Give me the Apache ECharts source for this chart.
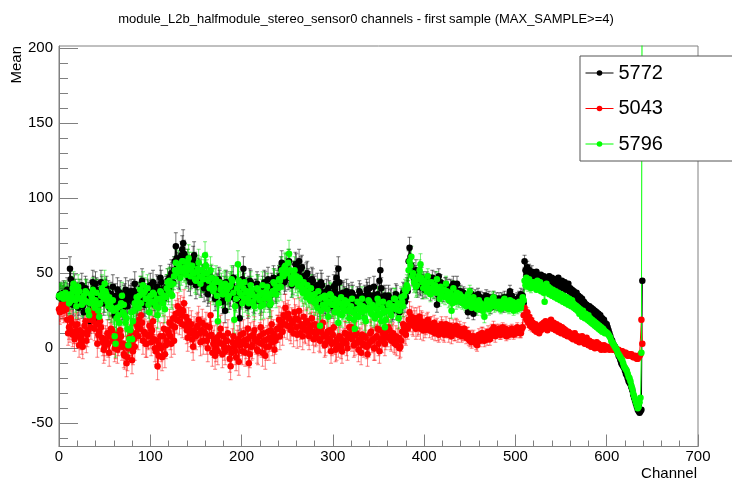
<!DOCTYPE html>
<html>
<head>
<meta charset="utf-8">
<script src="https://cdn.jsdelivr.net/npm/echarts@6/dist/echarts.min.js"></script>
<style>
  html, body { margin: 0; padding: 0; background: #fff; }
  #chart { width: 732px; height: 483px; }
</style>
</head>
<body>
<div id="chart"></div>
<script>
// values, one per channel 0..639 (40 channels per row)
const run5772 = [
  34,36,35,33,34,37,36,32,33,39,35,31,53,46,34,29,30,41,38,35,36,27,30,38,33,42,28,24,35,40,38,33,36,30,18,37,38,44,40,35,
  43,39,38,34,19,31,44,40,36,30,32,38,40,35,37,27,33,36,30,41,28,22,35,33,39,30,33,37,29,25,27,34,35,39,31,28,37,32,34,38,
  35,31,38,43,33,28,30,36,36,33,40,45,34,30,29,35,31,38,37,32,42,36,38,44,33,29,36,41,40,34,35,47,44,39,38,33,34,40,41,45,
  40,47,45,50,48,44,52,58,68,60,55,49,48,56,62,66,70,63,61,54,50,57,47,53,44,49,52,59,62,55,42,48,45,51,50,44,43,47,46,40,
  44,49,40,36,38,45,42,47,45,40,39,33,36,42,41,46,44,38,37,31,35,40,25,44,43,37,38,34,36,43,41,47,39,33,35,40,38,30,20,35,
  38,46,53,42,35,39,33,28,40,45,44,37,36,32,31,38,38,43,41,35,35,30,32,40,37,44,43,36,39,46,34,29,36,42,40,47,45,39,38,44,
  42,47,48,53,57,49,50,44,46,55,52,47,58,51,48,42,44,50,50,56,55,48,52,58,46,53,54,47,48,41,44,49,50,45,43,38,40,46,45,41,
  40,35,36,42,33,29,38,44,42,37,35,31,30,38,34,40,37,33,32,28,35,41,38,43,47,36,53,44,34,30,30,37,36,33,32,38,28,35,34,31,
  32,37,35,30,30,26,28,34,33,38,36,31,31,27,29,35,34,39,37,32,40,35,30,28,35,41,33,30,28,36,31,45,52,40,34,29,30,35,33,27,
  30,35,28,32,33,25,26,30,31,36,35,29,29,24,27,33,32,37,36,31,34,40,38,58,67,61,55,49,50,46,48,52,44,41,46,43,42,47,40,44,
  44,39,42,46,45,41,40,37,43,47,41,38,46,42,29,36,48,43,44,40,40,36,38,42,42,39,41,35,37,41,40,36,43,38,39,35,43,37,38,34,
  38,34,35,37,36,32,33,29,24,33,34,36,36,31,23,30,35,32,33,36,31,28,34,31,30,33,33,29,35,32,31,34,29,27,32,30,34,31,30,33,
  31,29,33,31,30,33,32,28,34,31,29,32,33,35,38,33,35,31,32,29,30,32,33,30,34,31,36,33,35,30,58,52,49,54,47,52,50,46,51,48,
  50,46,48,51,45,49,47,44,49,46,43,48,45,47,42,46,44,48,43,45,47,42,44,46,41,45,43,47,42,44,40,45,43,41,44,39,42,40,43,38,
  40,37,39,35,38,36,34,37,33,35,32,34,31,33,29,31,30,27,29,28,26,28,25,27,24,26,23,25,22,24,21,23,20,22,19,20,18,19,17,16,
  16,14,12,10,8,6,5,3,2,1,0,-1,-3,-5,-6,-8,-10,-11,-12,-13,-15,-17,-18,-20,-22,-23,-24,-26,-28,-31,-33,-35,-37,-39,-41,-42,-43,-42,-41,45
];
const run5043 = [
  26,24,27,29,28,25,27,30,26,19,10,14,12,20,17,9,11,6,15,11,16,8,2,12,7,4,1,10,15,18,5,9,12,22,19,14,20,25,18,13,
  22,16,3,9,11,18,14,7,4,-1,1,6,4,10,3,-3,8,13,12,5,5,0,2,9,-1,4,6,12,8,1,3,-4,-5,2,-10,-6,0,7,4,11,
  -8,-2,6,1,10,16,14,8,19,13,22,17,5,11,10,3,3,9,8,15,9,4,12,18,6,0,-2,5,-12,-5,2,8,0,-6,8,13,-4,2,5,12,
  10,17,8,3,15,20,5,14,23,19,28,24,18,26,22,16,25,30,15,21,12,7,18,13,10,16,6,1,12,9,8,14,15,19,10,4,12,17,5,11,
  10,15,5,0,8,14,22,9,-3,3,6,-5,0,7,-2,4,9,13,3,-4,8,1,-2,5,5,10,0,-7,-12,-3,4,8,1,-2,-6,3,6,-9,2,9,
  4,-2,10,5,-3,2,6,13,-10,-4,8,1,2,9,12,6,5,-1,-2,4,8,14,3,-3,10,5,-5,1,6,11,1,7,12,16,4,10,-1,5,7,13,
  13,19,8,15,18,11,22,16,27,21,15,23,20,14,12,18,17,10,24,20,14,9,19,25,10,15,16,8,21,13,12,17,18,11,8,14,15,20,11,6,
  16,9,10,15,12,6,5,11,14,17,8,2,3,9,11,5,6,12,-2,3,9,14,4,-1,0,6,2,8,7,1,-2,4,5,10,10,3,0,7,14,9,
  14,6,8,2,3,9,10,4,-1,6,5,-3,9,3,2,8,7,1,-4,2,4,10,11,5,6,0,0,7,8,13,3,-2,12,6,5,11,9,3,7,12,
  8,14,12,6,5,9,10,4,3,8,2,6,7,0,1,5,11,16,14,10,9,15,13,19,24,18,21,16,15,20,18,13,20,15,16,21,13,18,17,12,
  17,12,14,18,19,15,12,16,16,11,13,17,10,14,15,10,9,13,11,16,14,10,9,13,16,12,12,9,15,11,8,12,14,10,10,15,14,9,11,13,
  12,8,9,11,13,9,7,10,10,6,5,8,4,7,8,5,6,3,2,6,9,5,7,10,10,7,5,9,8,6,11,8,6,10,12,9,14,11,8,12,
  10,12,13,9,9,11,14,10,11,13,8,10,12,9,10,12,13,11,9,12,11,10,14,12,12,10,10,13,14,22,27,22,19,24,17,21,15,19,14,17,
  15,12,16,11,14,13,10,15,12,16,13,17,14,18,15,12,17,14,16,19,15,13,17,14,12,16,13,11,15,12,10,14,11,13,9,12,10,8,11,9,
  10,7,9,6,8,10,7,5,8,6,4,7,5,8,4,6,3,5,7,4,2,5,3,1,4,2,3,0,2,4,1,3,0,2,-1,1,0,2,-1,1,
  0,1,0,-1,0,0,0,-1,-1,0,-1,-2,-2,-1,-2,-3,-2,-2,-3,-4,-3,-3,-4,-5,-4,-4,-5,-4,-5,-6,-6,-5,-6,-7,-7,-6,-5,-4,19,3
];
const run5796 = [
  35,34,35,36,34,33,35,37,36,34,33,30,31,36,34,40,43,38,32,28,35,41,38,33,33,29,30,35,32,38,37,31,25,22,30,36,34,39,31,27,
  32,37,29,25,21,30,35,40,37,33,43,38,36,31,28,34,30,26,27,32,25,8,3,20,27,22,17,28,30,35,24,29,22,17,20,13,2,6,12,24,
  6,18,25,30,28,34,32,27,35,39,30,36,42,37,38,33,33,40,29,24,35,31,31,37,36,30,28,33,22,27,33,38,37,32,30,35,26,34,40,44,
  38,45,42,36,35,43,48,52,57,50,52,56,54,47,51,58,58,53,54,49,52,57,60,55,48,52,55,50,50,46,45,51,53,57,48,43,52,47,46,50,
  62,55,50,46,45,40,52,47,42,38,40,44,46,35,18,30,44,39,41,36,36,42,43,38,39,33,35,41,42,46,45,37,19,28,33,40,56,45,37,42,
  35,30,40,44,33,37,38,32,30,35,42,39,36,31,28,34,34,40,39,35,32,28,37,42,29,33,35,38,41,36,33,29,30,36,38,44,43,39,36,41,
  40,46,45,41,52,49,48,54,55,51,50,57,63,52,47,43,44,49,52,46,48,44,42,47,46,41,40,37,44,39,38,34,42,37,36,32,40,35,35,31,
  36,30,32,27,38,33,15,25,34,29,28,35,33,30,26,21,31,36,35,29,29,33,24,28,32,26,17,23,30,34,22,27,28,32,25,30,31,25,20,27,
  28,33,24,19,13,22,26,31,21,27,29,24,33,28,25,20,18,26,27,32,31,25,23,29,28,22,20,27,26,33,30,23,22,18,27,31,24,14,19,25,
  25,29,30,24,22,27,28,33,33,26,26,30,20,25,29,34,31,28,35,39,38,42,40,52,58,55,61,48,50,44,45,41,42,46,48,52,56,47,44,40,
  45,41,42,38,48,44,40,36,44,39,38,42,42,37,46,40,37,33,41,36,35,39,39,34,43,38,36,32,33,37,25,30,40,35,34,31,37,33,32,36,
  35,31,30,34,33,29,28,32,36,30,38,33,27,31,34,29,29,27,26,31,32,28,30,26,25,29,21,27,28,32,31,26,27,30,30,33,34,28,29,31,
  28,30,31,27,26,29,30,32,33,28,27,31,29,26,32,30,28,31,25,28,30,27,26,29,31,28,27,30,34,32,45,42,47,44,41,46,43,40,44,42,
  44,41,43,39,45,42,40,44,38,42,41,37,31,40,43,38,41,36,40,38,35,39,37,34,38,36,33,37,35,32,36,34,31,35,33,30,34,32,29,33,
  31,28,32,30,27,29,26,28,25,27,23,26,24,21,25,22,20,23,21,19,22,18,20,17,19,16,18,15,17,14,16,13,15,12,14,11,13,12,10,11,
  10,10,9,8,7,5,4,3,2,1,0,-1,-3,-4,-5,-6,-7,-8,-10,-12,-13,-14,-15,-17,-19,-20,-22,-25,-27,-30,-32,-34,-36,-38,-40,-39,-36,-33,-3,320
];
// error bar half-size, one value per 40 channels
const err5772 = [8,8,8,9,8,8,8,8,7,7,5,4,4,1.5,1.5,1.5];
const err5043 = [8,9,9,9,9,9,9,8,8,7,5,4,3,1.5,1.5,1.5];
const err5796 = [8,9,9,9,9,9,9,8,8,7,5,4,3,1.5,1.5,1.5];

const yMajor = [-50, 0, 50, 100, 150, 200];
const yMinor = [];
for (let v = -60; v <= 200; v += 10) if (v % 50 !== 0) yMinor.push(v);

const font = 'Liberation Sans, Arial, Helvetica, sans-serif';
const gray = '#808080';

function points (vals) {
  return vals.map((v, i) => [i, v]);
}
function errPoints (vals, errs) {
  return vals.map((v, i) => [i, v, errs[Math.min(15, Math.floor(i / 40))]]);
}

function renderErr (params, api) {
  const x = api.value(0), y = api.value(1), e = api.value(2);
  const hi = api.coord([x, y + e]);
  const lo = api.coord([x, y - e]);
  const st = { stroke: api.visual('color'), lineWidth: 1 };
  return {
    type: 'group',
    children: [
      { type: 'line', shape: { x1: hi[0], y1: hi[1], x2: lo[0], y2: lo[1] }, style: st },
      { type: 'line', shape: { x1: hi[0] - 2, y1: hi[1], x2: hi[0] + 2, y2: hi[1] }, style: st },
      { type: 'line', shape: { x1: lo[0] - 2, y1: lo[1], x2: lo[0] + 2, y2: lo[1] }, style: st }
    ]
  };
}

function errSeries (vals, errs, color) {
  return {
    type: 'custom', clip: true, silent: true,
    renderItem: renderErr,
    itemStyle: { color: color },
    encode: { x: 0, y: 1 },
    data: errPoints(vals, errs)
  };
}
function lineSeries (name, vals, color) {
  return {
    name: name, type: 'line', data: points(vals),
    symbol: 'circle', symbolSize: 6.5, showAllSymbol: true,
    itemStyle: { color: color },
    lineStyle: { color: color, width: 1 },
    clip: true, silent: true
  };
}

const chart = echarts.init(document.getElementById('chart'), null, { renderer: 'canvas' });
chart.setOption({
  animation: false,
  backgroundColor: '#fff',
  title: {
    text: 'module_L2b_halfmodule_stereo_sensor0 channels - first sample (MAX_SAMPLE>=4)',
    left: 'center', top: 8,
    textStyle: { fontSize: 13, fontWeight: 'normal', color: '#000', fontFamily: font }
  },
  grid: {
    left: 59, right: 34, top: 46, bottom: 36.5,
    show: true, borderColor: gray, borderWidth: 1, backgroundColor: 'transparent'
  },
  legend: {
    data: ['5772', '5043', '5796'],
    orient: 'vertical', left: 580, top: 56,
    backgroundColor: '#fff', borderColor: '#555', borderWidth: 1,
    padding: [7, 80, 7, 5], itemGap: 15.5, itemWidth: 28, itemHeight: 7,
    lineStyle: { width: 1 },
    textStyle: { fontSize: 20, color: '#000', fontFamily: font }
  },
  xAxis: {
    type: 'value', min: 0, max: 700, interval: 100,
    axisLine: { onZero: false, lineStyle: { color: gray } },
    axisTick: { inside: true, length: 12, lineStyle: { color: gray } },
    minorTick: { show: true, splitNumber: 5, length: 6, lineStyle: { color: gray } },
    axisLabel: { fontSize: 15, color: '#000', margin: 3, fontFamily: font },
    splitLine: { show: false }
  },
  yAxis: [{
    type: 'value', min: -65.5, max: 201.5, position: 'left',
    axisLine: { show: true, onZero: false, lineStyle: { color: gray } },
    axisTick: { show: true, inside: true, length: 19, customValues: yMajor, lineStyle: { color: gray } },
    axisLabel: { customValues: yMajor, fontSize: 15, color: '#000', margin: 6, fontFamily: font },
    splitLine: { show: false }
  }, {
    type: 'value', min: -65.5, max: 201.5, position: 'left',
    axisLine: { show: false, onZero: false },
    axisTick: { show: true, inside: true, length: 9, customValues: yMinor, lineStyle: { color: gray } },
    axisLabel: { show: false },
    splitLine: { show: false }
  }],
  graphic: [
    { type: 'text', x: 17, y: 46, rotation: Math.PI / 2,
      style: { text: 'Mean', fill: '#000', font: '15px ' + font, textAlign: 'right', textVerticalAlign: 'middle' } },
    { type: 'text', x: 697, y: 474,
      style: { text: 'Channel', fill: '#000', font: '15px ' + font, textAlign: 'right', textVerticalAlign: 'middle' } }
  ],
  series: [
    errSeries(run5772, err5772, 'rgba(0,0,0,0.55)'),
    lineSeries('5772', run5772, '#000000'),
    errSeries(run5043, err5043, 'rgba(255,0,0,0.5)'),
    lineSeries('5043', run5043, '#ff0000'),
    errSeries(run5796, err5796, 'rgba(0,230,0,0.55)'),
    lineSeries('5796', run5796, '#00ff00')
  ]
});
</script>
</body>
</html>
